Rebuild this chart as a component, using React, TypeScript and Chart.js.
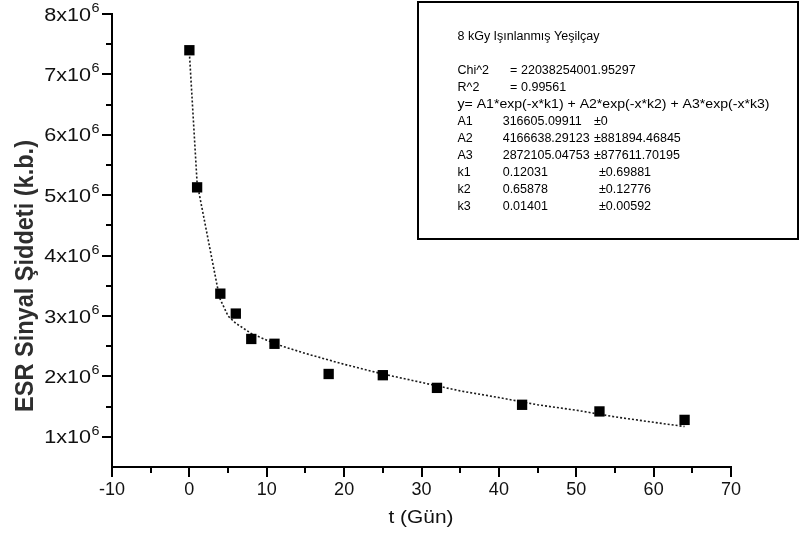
import React, { useEffect, useRef } from "react";
import { Chart, registerables } from "chart.js";

Chart.register(...registerables);

// ---- data ----
const dayValues = [0, 1, 4, 6, 8, 11, 18, 25, 32, 43, 53, 64];
const signalValues = [7.4e6, 5.13e6, 3.37e6, 3.04e6, 2.62e6, 2.54e6, 2.04e6, 2.02e6, 1.81e6, 1.53e6, 1.42e6, 1.28e6];

const fitDays = [0, 1, 3.9, 5, 6, 8, 10, 12, 15, 20, 25, 30, 35, 40, 45, 50, 55, 60, 64];
const fitValues = [7.36e6, 5.2e6, 3.3e6, 3.0e6, 2.88e6, 2.71e6, 2.6e6, 2.5e6, 2.38e6, 2.2e6, 2.04e6, 1.9e6, 1.76e6, 1.65e6, 1.53e6, 1.44e6, 1.33e6, 1.24e6, 1.17e6];

const xTickValues = [-10, 0, 10, 20, 30, 40, 50, 60, 70];
const yTickValues = [1e6, 2e6, 3e6, 4e6, 5e6, 6e6, 7e6, 8e6];
const yTickMantissas = ["1", "2", "3", "4", "5", "6", "7", "8"];
const yTickExponent = "6";

const xAxisTitle = "t (Gün)";
const yAxisTitle = "ESR Sinyal Şiddeti (k.b.)";

const legendTitle = "8 kGy Işınlanmış Yeşilçay";
const statNames = ["Chi^2", "R^2"];
const statValues = ["22038254001.95297", "0.99561"];
const fitEquation = "y= A1*exp(-x*k1) + A2*exp(-x*k2) + A3*exp(-x*k3)";
const paramNames = ["A1", "A2", "A3", "k1", "k2", "k3"];
const paramValues = ["316605.09911", "4166638.29123", "2872105.04753", "0.12031", "0.65878", "0.01401"];
const paramErrors = ["±0", "±881894.46845", "±877611.70195", "±0.69881", "±0.12776", "±0.00592"];

const FONT = '"Liberation Sans", Arial, sans-serif';

const decorPlugin = {
  id: "decor",
  afterDraw(chart: any) {
    const ctx: CanvasRenderingContext2D = chart.ctx;
    const xs = chart.scales.x;
    const ys = chart.scales.y;
    const { left, bottom } = chart.chartArea;
    ctx.save();

    // tick marks
    ctx.strokeStyle = "#000";
    ctx.lineWidth = 2;
    const seg = (x1: number, y1: number, x2: number, y2: number) => {
      ctx.beginPath();
      ctx.moveTo(x1, y1);
      ctx.lineTo(x2, y2);
      ctx.stroke();
    };
    yTickValues.forEach((v, i) => {
      const py = Math.round(ys.getPixelForValue(v));
      seg(left - 10, py, left, py);
      if (i < yTickValues.length - 1) {
        const pm = Math.round(ys.getPixelForValue((v + yTickValues[i + 1]) / 2));
        seg(left - 6, pm, left, pm);
      }
    });
    xTickValues.forEach((v, i) => {
      const px = Math.round(xs.getPixelForValue(v));
      seg(px, bottom, px, bottom + 10);
      if (i < xTickValues.length - 1) {
        const pm = Math.round(xs.getPixelForValue((v + xTickValues[i + 1]) / 2));
        seg(pm, bottom, pm, bottom + 6);
      }
    });

    // y tick labels  (mantissa x10^6)
    ctx.fillStyle = "#111";
    yTickValues.forEach((v, i) => {
      const py = ys.getPixelForValue(v);
      ctx.save();
      ctx.translate(91, py);
      ctx.scale(1.2, 1);
      ctx.font = `18px ${FONT}`;
      ctx.textAlign = "right";
      ctx.textBaseline = "alphabetic";
      ctx.fillText(yTickMantissas[i] + "x10", 0, 6.5);
      ctx.font = `12px ${FONT}`;
      ctx.textAlign = "left";
      ctx.fillText(yTickExponent, 0.5, -2);
      ctx.restore();
    });

    // y axis title
    ctx.save();
    ctx.fillStyle = "#2e2e2e";
    ctx.font = `bold 25px ${FONT}`;
    ctx.translate(33, 276);
    ctx.rotate(-Math.PI / 2);
    const tw = ctx.measureText(yAxisTitle).width;
    ctx.scale(272 / tw, 1);
    ctx.textAlign = "center";
    ctx.textBaseline = "alphabetic";
    ctx.fillText(yAxisTitle, 0, 0);
    ctx.restore();

    // x axis title
    ctx.save();
    ctx.fillStyle = "#111";
    ctx.font = `19px ${FONT}`;
    ctx.translate(421, 523);
    const xw = ctx.measureText(xAxisTitle).width;
    ctx.scale(65 / xw, 1);
    ctx.textAlign = "center";
    ctx.fillText(xAxisTitle, 0, 0);
    ctx.restore();

    // legend / fit box
    ctx.lineWidth = 2;
    ctx.strokeStyle = "#000";
    ctx.strokeRect(418, 2, 380, 237);
    ctx.fillStyle = "#000";
    ctx.font = `12.5px ${FONT}`;
    ctx.textAlign = "left";
    ctx.textBaseline = "alphabetic";
    const lx = 457.5;
    ctx.fillText(legendTitle, lx, 39.5);
    const step = 17.1;
    let by = 73.5;
    statNames.forEach((n, i) => {
      ctx.fillText(n, lx, by);
      ctx.fillText("=", 510, by);
      ctx.fillText(statValues[i], 521, by);
      by += step;
    });
    ctx.save();
    ctx.translate(lx, by);
    const ew = ctx.measureText(fitEquation).width;
    ctx.scale(312 / ew, 1);
    ctx.fillText(fitEquation, 0, 0);
    ctx.restore();
    by += step;
    paramNames.forEach((n, i) => {
      ctx.fillText(n, lx, by);
      ctx.fillText(paramValues[i], 502.7, by);
      ctx.fillText(paramErrors[i], i < 3 ? 594 : 599, by);
      by += step;
    });

    ctx.restore();
  },
};

export default function App() {
  const canvasRef = useRef<HTMLCanvasElement | null>(null);

  useEffect(() => {
    const canvas = canvasRef.current;
    if (!canvas) return;
    const chart = new Chart(canvas, {
      type: "scatter",
      data: {
        datasets: [
          {
            label: "data",
            data: dayValues.map((d, i) => ({ x: d, y: signalValues[i] })),
            showLine: false,
            pointStyle: "rect",
            pointRadius: 7.3,
            pointHoverRadius: 7.3,
            pointBackgroundColor: "#000",
            pointBorderColor: "#000",
            pointBorderWidth: 0,
          },
          {
            label: "fit",
            data: fitDays.map((d, i) => ({ x: d, y: fitValues[i] })),
            showLine: true,
            pointRadius: 0,
            borderColor: "#1a1a1a",
            borderWidth: 1.6,
            borderDash: [2, 2],
            tension: 0,
            fill: false,
          },
        ],
      },
      options: {
        responsive: false,
        maintainAspectRatio: false,
        devicePixelRatio: 1,
        animation: false,
        events: [],
        layout: { padding: { top: 14, right: 69, left: 0, bottom: 0 } },
        plugins: {
          legend: { display: false },
          tooltip: { enabled: false },
          title: { display: false },
        },
        scales: {
          x: {
            type: "linear",
            min: -10,
            max: 70,
            afterFit: (s: any) => {
              s.height = 71;
            },
            afterBuildTicks: (s: any) => {
              s.ticks = xTickValues.map((v) => ({ value: v }));
            },
            ticks: {
              stepSize: 10,
              maxRotation: 0,
              autoSkip: false,
              padding: 12,
              color: "#111",
              font: { family: FONT, size: 18 },
            },
            grid: { display: false, drawTicks: false },
            border: { display: true, color: "#000", width: 2 },
          },
          y: {
            type: "linear",
            min: 500000,
            max: 8000000,
            afterFit: (s: any) => {
              s.width = 112;
            },
            ticks: { display: false },
            grid: { display: false, drawTicks: false },
            border: { display: true, color: "#000", width: 2 },
          },
        },
      },
      plugins: [decorPlugin],
    });
    return () => chart.destroy();
  }, []);

  return (
    <div style={{ position: "absolute", left: 0, top: 0, width: 800, height: 538, background: "#fff" }}>
      <canvas ref={canvasRef} width={800} height={538} style={{ display: "block" }} />
    </div>
  );
}
